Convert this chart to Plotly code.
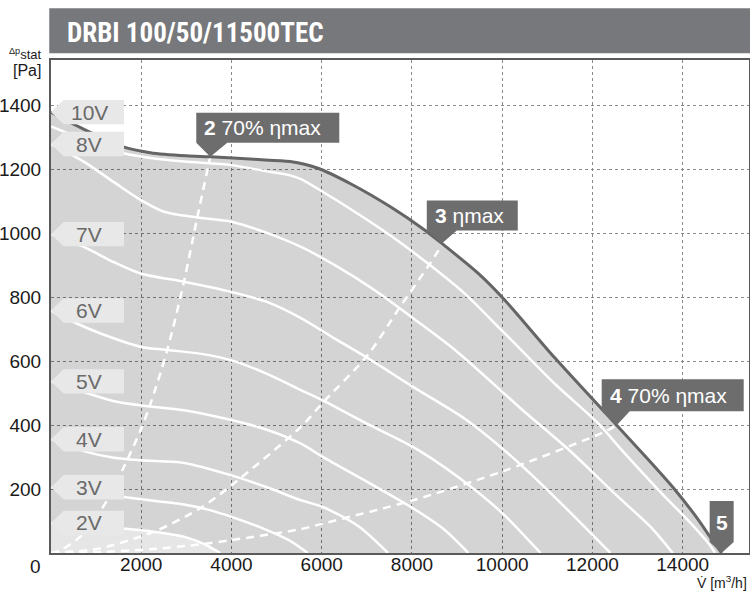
import plotly.graph_objects as go

# ---------------- data ----------------
flow_10v = [0, 700, 1600, 2200, 3000, 3530, 4500, 5300, 5900, 6650, 7540, 8280, 8661, 9470, 10060, 11170, 12538, 13200, 13792, 14300, 14600, 14864]
p_10v    = [1380, 1328, 1271, 1253, 1243, 1240, 1232, 1225, 1205, 1155, 1082, 1011, 969, 875, 791, 610, 400, 298, 204, 113, 52, 0]

flow_9v = [0, 800, 1615, 2200, 2950, 4000, 4725, 5300, 5540, 5911, 6800, 7540, 8355, 9170, 9911, 10430, 11200, 12133, 12651, 13540, 14100, 14578, 14720]
p_9v    = [1335, 1290, 1251, 1236, 1225, 1214, 1196, 1182, 1170, 1140, 1062, 992, 906, 812, 708, 634, 525, 405, 322, 186, 105, 29, 0]

flow_8v = [0, 725, 1400, 1984, 2503, 3244, 4000, 4725, 5540, 6300, 7200, 8022, 9000, 10430, 11500, 12500, 13300, 13780]
p_8v    = [1280, 1225, 1160, 1105, 1068, 1050, 1037, 1005, 958, 900, 820, 735, 630, 450, 320, 185, 80, 0]

flow_7v = [0, 725, 1400, 1984, 2948, 4000, 4800, 5540, 6300, 7022, 8022, 9170, 10059, 10874, 11700, 12400]
p_7v    = [998, 958, 910, 875, 849, 817, 785, 735, 670, 610, 520, 420, 320, 215, 100, 0]

flow_6v = [0, 500, 1100, 2000, 2600, 3300, 4000, 4800, 5540, 6022, 7000, 8022, 9000, 10000, 10850]
p_6v    = [759, 723, 687, 645, 635, 624, 603, 560, 510, 478, 405, 332, 240, 125, 0]

flow_5v = [0, 725, 1400, 2000, 2950, 4000, 4800, 5540, 6022, 7170, 8022, 8700, 9250]
p_5v    = [537, 504, 475, 462, 447, 416, 385, 342, 301, 210, 140, 75, 0]

flow_4v = [0, 725, 1400, 2000, 2950, 4000, 4800, 5540, 6022, 6800, 7470]
p_4v    = [356, 319, 298, 290, 282, 243, 205, 165, 144, 85, 0]

flow_3v = [0, 800, 1615, 2000, 2950, 3500, 4000, 4800, 5300, 5690]
p_3v    = [206, 190, 175, 168, 152, 135, 113, 71, 38, 0]

flow_2v = [0, 800, 1600, 2000, 2500, 3000, 3400, 3750]
p_2v    = [94, 87, 77, 71, 62, 49, 28, 0]

# efficiency lines (dashed)
flow_eta2 = [0, 207, 725, 1244, 1615, 1984, 2207, 2577, 2948, 3244, 3530]
p_eta2    = [0, 8, 61, 165, 269, 384, 468, 635, 850, 1052, 1240]
flow_eta3 = [0, 1100, 2355, 3318, 3984, 5540, 6022, 7022, 7689, 8578, 8661]
p_eta3    = [0, 15, 71, 141, 210, 395, 470, 620, 760, 945, 969]
flow_eta4 = [0, 1096, 2207, 3318, 3984, 5540, 6022, 8022, 10059, 12281, 12538]
p_eta4    = [0, 3, 12, 27, 40, 75, 92, 165, 258, 380, 400]

voltage_labels = ["10V", "8V", "7V", "6V", "5V", "4V", "3V", "2V"]
x_ticks = [2000, 4000, 6000, 8000, 10000, 12000, 14000]
y_ticks = [200, 400, 600, 800, 1000, 1200, 1400]

title_text = "DRBI 100/50/11500TEC"

# ---------------- figure ----------------
fig = go.Figure()

# gray operating area under the envelope (translucent so the grid shows through)
fig.add_trace(go.Scatter(x=flow_10v, y=p_10v, mode="lines",
                         line=dict(width=0, shape="spline", smoothing=0.8),
                         fill="tozeroy", fillcolor="rgba(0,0,0,0.17)", hoverinfo="skip"))
# lighter area under the 2V curve
fig.add_trace(go.Scatter(x=flow_2v, y=p_2v, mode="lines",
                         line=dict(width=0, shape="spline", smoothing=0.8),
                         fill="tozeroy", fillcolor="rgba(255,255,255,0.42)", hoverinfo="skip"))

white_curves = [(flow_9v, p_9v), (flow_8v, p_8v), (flow_7v, p_7v), (flow_6v, p_6v),
                (flow_5v, p_5v), (flow_4v, p_4v), (flow_3v, p_3v), (flow_2v, p_2v)]
for fx, py in white_curves:
    fig.add_trace(go.Scatter(x=fx, y=py, mode="lines",
                             line=dict(color="white", width=2.5, shape="spline", smoothing=0.8),
                             hoverinfo="skip"))

for fx, py in [(flow_eta2, p_eta2), (flow_eta3, p_eta3), (flow_eta4, p_eta4)]:
    fig.add_trace(go.Scatter(x=fx, y=py, mode="lines",
                             line=dict(color="white", width=2.5, dash="8px,6px", shape="spline", smoothing=0.8),
                             hoverinfo="skip"))

# envelope line
fig.add_trace(go.Scatter(x=flow_10v, y=p_10v, mode="lines",
                         line=dict(color="#656565", width=3, shape="spline", smoothing=0.8),
                         hoverinfo="skip"))

shapes = []
annotations = []

# title banner
shapes.append(dict(type="rect", xref="paper", yref="paper", ysizemode="pixel", yanchor=1,
                   x0=-0.0025, x1=1.002, y0=6.7, y1=51.7,
                   fillcolor="#77787b", line=dict(width=0), layer="above"))
annotations.append(dict(xref="paper", yref="paper", x=0.02, y=1, xanchor="left", yanchor="middle",
                        yshift=27, showarrow=False,
                        text="<b>" + title_text + "</b>",
                        font=dict(family="Roboto Condensed, Liberation Sans Narrow, DejaVu Sans Condensed", size=27, color="white")))

# voltage labels at curve starts
label_starts = [p_10v[0], p_8v[0], p_7v[0], p_6v[0], p_5v[0], p_4v[0], p_3v[0], p_2v[0]]
for lab, yv in zip(voltage_labels, label_starts):
    shapes.append(dict(type="path", xref="x", yref="y", xsizemode="pixel", ysizemode="pixel",
                       xanchor=0, yanchor=yv,
                       path="M0,0 L12.6,12.2 L73,12.2 L73,-12.2 L12.6,-12.2 Z",
                       fillcolor="#e8e8e8", line=dict(width=0), layer="above"))
    annotations.append(dict(x=0, y=yv, xref="x", yref="y", xanchor="center", yanchor="middle",
                            xshift=38, yshift=0, showarrow=False, text=lab,
                            font=dict(family="Liberation Sans, Arial", size=21, color="#6a6a6a")))

# callout markers
callouts = [
    (flow_eta2[-1], p_eta2[-1], "M0,0 L-14,14 L-14,44 L129,44 L129,14 L17,14 Z", "<b>2</b> 70% ηmax", "left", -8, 29),
    (flow_eta3[-1], p_eta3[-1], "M0,0 L-15,13 L-15,43 L76,43 L76,13 L15,13 Z", "<b>3</b> ηmax", "left", -9, 28),
    (flow_eta4[-1], p_eta4[-1], "M0,0 L-15,14 L-15,46 L127,46 L127,14 L13,14 Z", "<b>4</b> 70% ηmax", "left", -9, 30),
    (flow_10v[-1], p_10v[-1], "M0,0 L-12,11 L-12,52 L12,52 L12,11 Z", "<b>5</b>", "center", 0, 31),
]
for cx, cy, path, txt, xa, dx, dy in callouts:
    shapes.append(dict(type="path", xref="x", yref="y", xsizemode="pixel", ysizemode="pixel",
                       xanchor=cx, yanchor=cy, path=path,
                       fillcolor="#6d6d6d", line=dict(width=0), layer="above"))
    annotations.append(dict(x=cx, y=cy, xref="x", yref="y", xanchor=xa, yanchor="middle",
                            xshift=dx, yshift=dy, showarrow=False, text=txt,
                            font=dict(family="Liberation Sans, Arial", size=21, color="white")))

# axis titles and origin label
annotations += [
    dict(xref="paper", yref="paper", x=0, y=1, xanchor="right", yanchor="middle", xshift=-8, yshift=6,
         showarrow=False, text="<sup>Δp</sup>stat", font=dict(family="Liberation Sans, Arial", size=13, color="#1a1a1a")),
    dict(xref="paper", yref="paper", x=0, y=1, xanchor="right", yanchor="middle", xshift=-8, yshift=-10,
         showarrow=False, text="[Pa]", font=dict(family="Liberation Sans, Arial", size=16, color="#1a1a1a")),
    dict(xref="paper", yref="paper", x=1, y=0, xanchor="right", yanchor="middle", xshift=0, yshift=-29,
         showarrow=False, text="V̇ [m<sup>3</sup>/h]", font=dict(family="Liberation Sans, Arial", size=14, color="#1a1a1a")),
    dict(xref="paper", yref="paper", x=0, y=0, xanchor="right", yanchor="middle", xshift=-8, yshift=-13,
         showarrow=False, text="0", font=dict(family="Liberation Sans, Arial", size=19, color="#1a1a1a")),
]

fig.update_layout(
    width=750, height=592,
    margin=dict(l=51, r=1, t=60, b=39),
    paper_bgcolor="white", plot_bgcolor="white",
    showlegend=False,
    shapes=shapes, annotations=annotations,
    font=dict(family="Liberation Sans, Arial", size=19, color="#1a1a1a"),
)
fig.update_xaxes(range=[0, 15470], tickvals=x_ticks, ticktext=[str(v) for v in x_ticks],
                 showgrid=True, gridcolor="#8a8a8a", gridwidth=1, griddash="dot",
                 showline=True, linecolor="#5a5a5a", linewidth=2, mirror=True,
                 zeroline=False, ticks="", automargin=False, ticklabelstandoff=-7,
                 tickfont=dict(size=19, color="#1a1a1a"))
fig.update_yaxes(range=[0, 1543], tickvals=y_ticks, ticktext=[str(v) for v in y_ticks],
                 showgrid=True, gridcolor="#8a8a8a", gridwidth=1, griddash="dot",
                 showline=True, linecolor="#5a5a5a", linewidth=2, mirror=True,
                 zeroline=False, ticks="", automargin=False, ticklabelstandoff=4,
                 tickfont=dict(size=19, color="#1a1a1a"))

fig.write_html("out.html", config={"displayModeBar": False},
               post_script="document.body.style.margin='0';document.body.style.padding='0';")
